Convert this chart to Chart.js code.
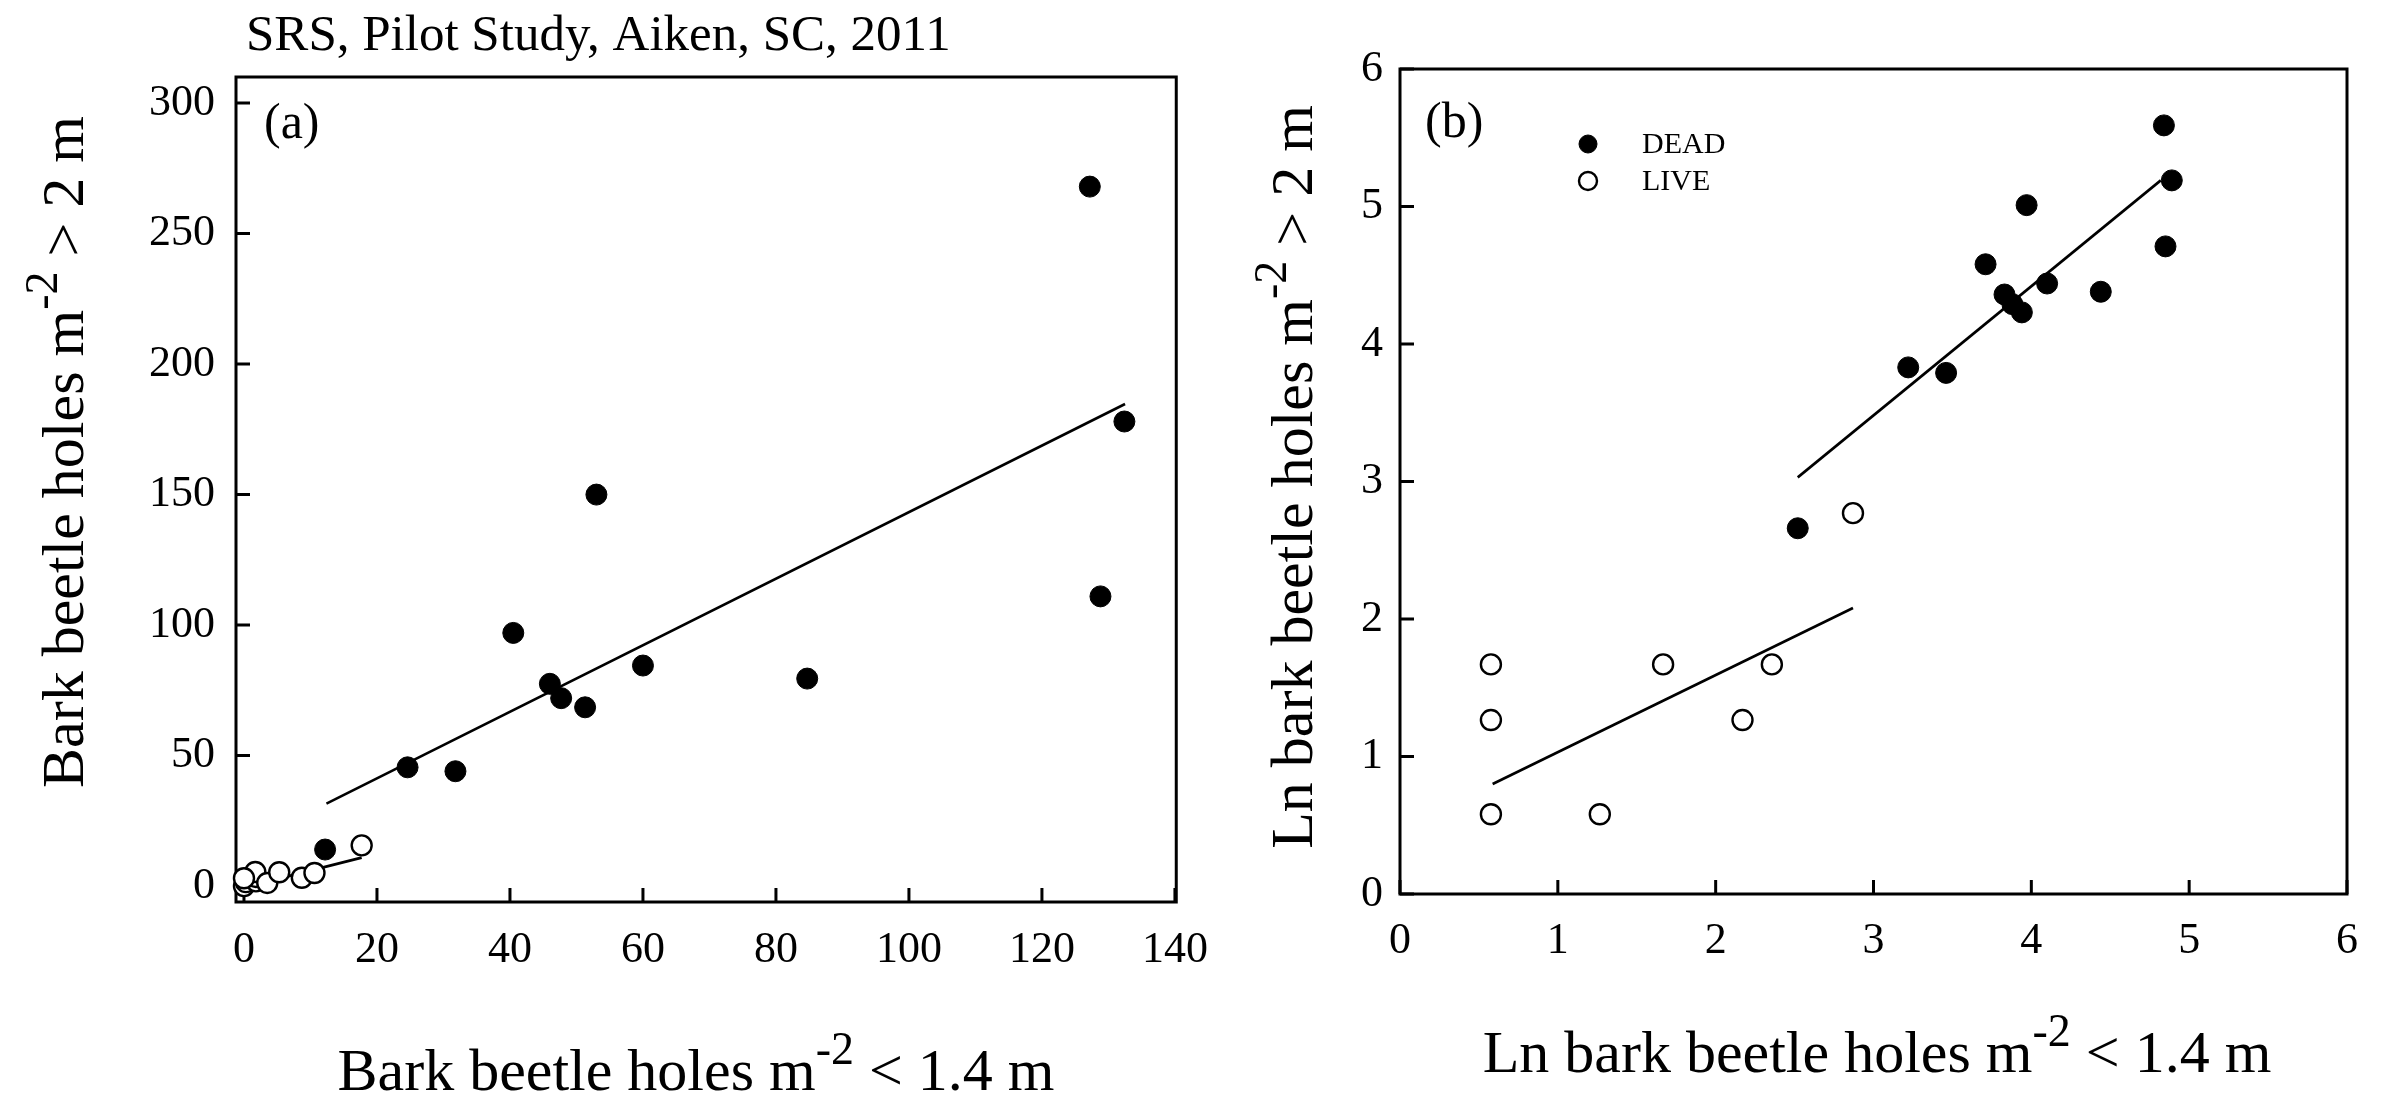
<!DOCTYPE html>
<html><head><meta charset="utf-8">
<script src="https://cdn.jsdelivr.net/npm/chart.js@4/dist/chart.umd.min.js"></script>
<style>
html,body{margin:0;padding:0;background:#fff;width:2384px;height:1107px;overflow:hidden}
#c1{position:absolute;left:0;top:0}
#c2{position:absolute;left:1230px;top:0}
</style></head><body>
<canvas id="c1" width="1230" height="1107"></canvas>
<canvas id="c2" width="1154" height="1107"></canvas>
<script>
// ---------- Data ----------
const mainTitle = "SRS, Pilot Study, Aiken, SC, 2011";
const legendLabels = ["DEAD", "LIVE"];

// Panel (a): raw counts
const leftXTicks = [0, 20, 40, 60, 80, 100, 120, 140];
const leftYTicks = [0, 50, 100, 150, 200, 250, 300];
const leftDeadX = [127.2, 132.4, 128.8, 53.0, 40.5, 60.0, 46.0, 47.7, 51.3, 84.7, 24.6, 31.8, 12.2];
const leftDeadY = [268, 178, 111, 150, 97, 84.5, 77.5, 72, 68.5, 79.5, 45.5, 44, 14];
const leftLiveX = [0, 0.3, 1.8, 1.8, 1.7, 3.5, 5.3, 8.7, 10.6, 17.7, 0];
const leftLiveY = [0, 1.5, 1.8, 3.5, 5.4, 1.2, 5.3, 3.2, 5, 15.6, 3];
const leftDeadFitX = [12.4, 132.5];
const leftDeadFitY = [31.6, 184.7];
const leftLiveFitX = [0, 17.7];
const leftLiveFitY = [-0.5, 10.9];

// Panel (b): natural logs
const rightXTicks = [0, 1, 2, 3, 4, 5, 6];
const rightYTicks = [0, 1, 2, 3, 4, 5, 6];
const rightDeadX = [4.84, 4.89, 4.85, 3.97, 3.71, 3.83, 3.88, 3.94, 4.10, 4.44, 3.22, 3.46, 2.52];
const rightDeadY = [5.59, 5.19, 4.71, 5.01, 4.58, 4.36, 4.29, 4.23, 4.44, 4.38, 3.83, 3.79, 2.66];
const rightLiveX = [0.576, 0.576, 0.576, 1.266, 1.667, 2.17, 2.356, 2.87];
const rightLiveY = [1.67, 1.265, 0.58, 0.58, 1.67, 1.265, 1.67, 2.77];
const rightDeadFitX = [2.52, 4.82];
const rightDeadFitY = [3.03, 5.19];
const rightLiveFitX = [0.587, 2.87];
const rightLiveFitY = [0.80, 2.08];

// ---------- Helpers ----------
const FONT = '"Liberation Serif", "Times New Roman", serif';
const pts = (xs, ys) => xs.map((x, i) => ({x: x, y: ys[i]}));

function richText(ctx, parts, x, y, align, rot) {
  ctx.save();
  ctx.translate(x, y);
  ctx.rotate(rot || 0);
  ctx.fillStyle = '#000';
  ctx.textBaseline = 'alphabetic';
  ctx.textAlign = 'left';
  const widths = parts.map(p => { ctx.font = p.size + 'px ' + FONT; return ctx.measureText(p.t).width; });
  const total = widths.reduce((s, w) => s + w, 0);
  let cx = align === 'center' ? -total / 2 : 0;
  parts.forEach((p, i) => {
    ctx.font = p.size + 'px ' + FONT;
    ctx.fillText(p.t, cx, p.dy || 0);
    cx += widths[i];
  });
  ctx.restore();
}

function pointSet(label, xs, ys, filled) {
  return {
    type: 'scatter', label: label, data: pts(xs, ys), order: 1, clip: false,
    pointRadius: filled ? 10.5 : 10, pointHoverRadius: filled ? 10.5 : 10, pointStyle: 'circle',
    pointBackgroundColor: filled ? '#000' : '#fff',
    pointBorderColor: '#000', pointBorderWidth: filled ? 1 : 2.4,
    showLine: false
  };
}
function lineSet(label, xs, ys) {
  return {
    type: 'scatter', label: label, data: pts(xs, ys), order: 2, clip: false,
    showLine: true, borderColor: '#000', borderWidth: 2.6, pointRadius: 0, pointHoverRadius: 0, fill: false
  };
}

function framePlugin(opts) {
  return {
    id: 'decor',
    beforeDatasetsDraw(chart) {
      const ctx = chart.ctx, a = chart.chartArea;
      const xs = chart.scales.x, ys = chart.scales.y;
      ctx.save();
      ctx.strokeStyle = '#000';
      ctx.lineWidth = 3;
      ctx.strokeRect(a.left, a.top, a.right - a.left, a.bottom - a.top);
      ctx.beginPath();
      xs.ticks.forEach(t => { const p = xs.getPixelForValue(t.value); ctx.moveTo(p, a.bottom); ctx.lineTo(p, a.bottom - 14); });
      ys.ticks.forEach(t => { const p = ys.getPixelForValue(t.value); ctx.moveTo(a.left, p); ctx.lineTo(a.left + 14, p); });
      ctx.stroke();
      ctx.restore();
    },
    afterDraw(chart) {
      const ctx = chart.ctx;
      opts.draw(ctx, chart);
    }
  };
}

function makeChart(id, cfg) {
  const tickFont = {family: FONT, size: 44};
  return new Chart(document.getElementById(id), {
    type: 'scatter',
    data: {datasets: cfg.datasets},
    options: {
      responsive: false, animation: false, devicePixelRatio: 1,
      layout: {padding: {top: cfg.padTop, right: cfg.padRight, left: 0, bottom: 0}},
      plugins: {legend: {display: false}, tooltip: {enabled: false}},
      scales: {
        x: {
          type: 'linear', min: cfg.xMin, max: cfg.xMax,
          grid: {display: false, drawTicks: false}, border: {display: false},
          ticks: {font: tickFont, color: '#000', padding: cfg.xPad, maxRotation: 0, includeBounds: false},
          afterBuildTicks: s => { s.ticks = cfg.xTicks.map(v => ({value: v})); },
          afterFit: s => { s.height = cfg.xAxisH; }
        },
        y: {
          type: 'linear', min: cfg.yMin, max: cfg.yMax,
          grid: {display: false, drawTicks: false}, border: {display: false},
          ticks: {font: tickFont, color: '#000', padding: cfg.yPad, includeBounds: false},
          afterBuildTicks: s => { s.ticks = cfg.yTicks.map(v => ({value: v})); },
          afterFit: s => { s.width = cfg.yAxisW; }
        }
      }
    },
    plugins: [framePlugin({draw: cfg.draw})]
  });
}

function init() {
  makeChart('c1', {
    datasets: [
      lineSet('DEAD fit', leftDeadFitX, leftDeadFitY),
      lineSet('LIVE fit', leftLiveFitX, leftLiveFitY),
      pointSet(legendLabels[0], leftDeadX, leftDeadY, true),
      pointSet(legendLabels[1], leftLiveX, leftLiveY, false)
    ],
    xMin: -1.2, xMax: 140.2, yMin: -6.1, yMax: 310,
    xTicks: leftXTicks, yTicks: leftYTicks,
    padTop: 77, padRight: 49, xAxisH: 205, yAxisW: 236, xPad: 22, yPad: 21,
    draw(ctx) {
      ctx.save();
      ctx.fillStyle = '#000';
      ctx.textBaseline = 'alphabetic';
      ctx.textAlign = 'left';
      ctx.font = '51px ' + FONT;
      ctx.fillText(mainTitle, 246, 50);
      ctx.font = '50px ' + FONT;
      ctx.fillText('(a)', 264, 138);
      ctx.restore();
      richText(ctx, [{t: 'Bark beetle holes m', size: 60}, {t: '-2', size: 46, dy: -26}, {t: ' < 1.4 m', size: 60}], 696, 1090, 'center', 0);
      richText(ctx, [{t: 'Bark beetle holes m', size: 60}, {t: '-2', size: 46, dy: -26}, {t: ' > 2 m', size: 60}], 83, 452, 'center', -Math.PI / 2);
    }
  });

  makeChart('c2', {
    datasets: [
      lineSet('DEAD fit', rightDeadFitX, rightDeadFitY),
      lineSet('LIVE fit', rightLiveFitX, rightLiveFitY),
      pointSet(legendLabels[0], rightDeadX, rightDeadY, true),
      pointSet(legendLabels[1], rightLiveX, rightLiveY, false)
    ],
    xMin: 0, xMax: 6, yMin: 0, yMax: 6,
    xTicks: rightXTicks, yTicks: rightYTicks,
    padTop: 69, padRight: 37, xAxisH: 213, yAxisW: 170, xPad: 21, yPad: 17,
    draw(ctx, chart) {
      const off = 1230;
      ctx.save();
      ctx.fillStyle = '#000';
      ctx.textBaseline = 'alphabetic';
      ctx.textAlign = 'left';
      ctx.font = '50px ' + FONT;
      ctx.fillText('(b)', 1425 - off, 137);
      // legend
      const ds = chart.data.datasets.filter(d => !d.showLine);
      ds.forEach((d, i) => {
        const cy = 144 + i * 37;
        ctx.beginPath();
        ctx.arc(1588 - off, cy, 9, 0, Math.PI * 2);
        ctx.fillStyle = d.pointBackgroundColor;
        ctx.fill();
        ctx.lineWidth = d.pointBorderWidth;
        ctx.strokeStyle = d.pointBorderColor;
        ctx.stroke();
        ctx.fillStyle = '#000';
        ctx.font = '30px ' + FONT;
        ctx.textBaseline = 'middle';
        ctx.fillText(d.label, 1642 - off, cy + 1);
      });
      ctx.restore();
      richText(ctx, [{t: 'Ln bark beetle holes m', size: 60}, {t: '-2', size: 46, dy: -26}, {t: ' < 1.4 m', size: 60}], 1877 - off, 1072, 'center', 0);
      richText(ctx, [{t: 'Ln bark beetle holes m', size: 60}, {t: '-2', size: 46, dy: -26}, {t: ' > 2 m', size: 60}], 1312 - off, 477, 'center', -Math.PI / 2);
    }
  });
}

if (document.fonts && document.fonts.load) {
  Promise.all([
    document.fonts.load('44px "Liberation Serif"'),
    document.fonts.load('60px "Liberation Serif"')
  ]).then(init, init);
} else {
  init();
}
</script>
</body></html>
